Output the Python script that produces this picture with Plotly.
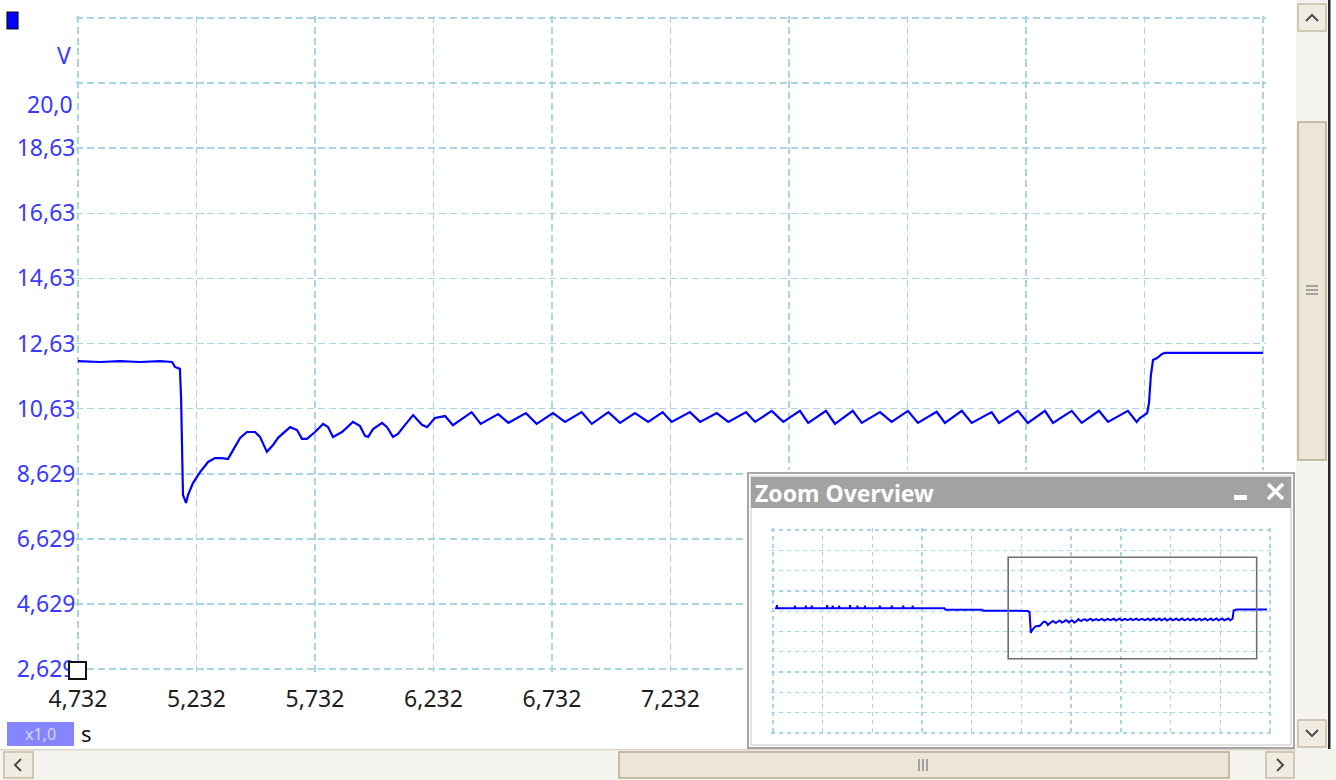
import plotly.graph_objects as go

W, H = 1336, 780

# ---------------- data ----------------
time_s = [4.732, 4.825, 4.909, 4.994, 5.078, 5.129, 5.141, 5.162, 5.167, 5.171,
          5.175, 5.188, 5.196, 5.217, 5.247, 5.281, 5.310, 5.340, 5.365, 5.382,
          5.416, 5.445, 5.479, 5.500, 5.529, 5.555, 5.576, 5.627, 5.656, 5.677,
          5.698, 5.732, 5.766, 5.787, 5.808, 5.846, 5.892, 5.922, 5.943, 5.956,
          5.977, 6.015, 6.036, 6.061, 6.082, 6.112, 6.146, 6.183, 6.205, 6.238,
          6.281, 6.314, 6.393, 6.431, 6.505, 6.548, 6.622, 6.667, 6.736, 6.787,
          6.857, 6.900, 6.970, 7.019, 7.082, 7.138, 7.199, 7.237, 7.314, 7.357,
          7.427, 7.476, 7.551, 7.589, 7.659, 7.708, 7.778, 7.813, 7.888, 7.926,
          8.001, 8.039, 8.116, 8.165, 8.234, 8.276, 8.355, 8.390, 8.461, 8.503,
          8.587, 8.618, 8.698, 8.740, 8.812, 8.846, 8.925, 8.967, 9.040, 9.078,
          9.162, 9.199, 9.213, 9.243, 9.251, 9.259, 9.268, 9.285, 9.306, 9.319,
          9.732]
volts = [12.09, 12.06, 12.09, 12.06, 12.09, 12.06, 11.91, 11.85, 10.95, 9.45,
         7.97, 7.73, 7.97, 8.34, 8.68, 8.99, 9.11, 9.11, 9.08, 9.30,
         9.73, 9.91, 9.91, 9.76, 9.30, 9.51, 9.73, 10.06, 9.97, 9.70,
         9.70, 9.91, 10.16, 10.06, 9.76, 9.91, 10.22, 10.09, 9.79, 9.76,
         10.00, 10.19, 10.06, 9.76, 9.85, 10.13, 10.43, 10.13, 10.06, 10.34,
         10.40, 10.12, 10.52, 10.16, 10.46, 10.19, 10.49, 10.16, 10.49, 10.22,
         10.52, 10.16, 10.52, 10.19, 10.49, 10.22, 10.52, 10.22, 10.52, 10.22,
         10.49, 10.22, 10.52, 10.22, 10.56, 10.22, 10.56, 10.19, 10.56, 10.16,
         10.56, 10.19, 10.52, 10.22, 10.56, 10.19, 10.53, 10.19, 10.56, 10.19,
         10.52, 10.19, 10.56, 10.19, 10.56, 10.19, 10.56, 10.19, 10.56, 10.22,
         10.56, 10.22, 10.34, 10.49, 10.80, 11.66, 12.12, 12.18, 12.31, 12.34,
         12.34]

# signal before / after the zoomed window (only visible in the overview)
pre_time_s = [0.04, 0.075, 0.08, 0.085, 0.435, 0.44, 0.445, 0.655, 0.66, 0.665,
              0.775, 0.78, 0.785, 1.085, 1.09, 1.095, 1.195, 1.20, 1.205,
              1.325, 1.33, 1.335, 1.545, 1.55, 1.555, 1.695, 1.70, 1.705,
              1.845, 1.85, 1.855, 2.145, 2.15, 2.155, 2.385, 2.39, 2.395,
              2.615, 2.62, 2.625, 2.805, 2.81, 2.815, 3.45, 3.47, 4.21, 4.23]
pre_volts = [12.6, 12.6, 13.2, 12.6, 12.6, 13.1, 12.6, 12.6, 13.1, 12.6,
             12.6, 13.1, 12.6, 12.6, 13.2, 12.6, 12.6, 13.1, 12.6,
             12.6, 13.1, 12.6, 12.6, 13.2, 12.6, 12.6, 13.1, 12.6,
             12.6, 13.1, 12.6, 12.6, 13.1, 12.6, 12.6, 13.1, 12.6,
             12.6, 13.1, 12.6, 12.6, 13.1, 12.6, 12.6, 12.3, 12.3, 12.09]
tail_time_s = [9.94]
tail_volts = [12.34]

x_tick_values = [4.732, 5.232, 5.732, 6.232, 6.732, 7.232, 7.732, 8.232, 8.732, 9.232, 9.732]
x_tick_labels = ["4,732", "5,232", "5,732", "6,232", "6,732", "7,232",
                 "7,732", "8,232", "8,732", "9,232", "9,732"]
y_tick_values = [2.629, 4.629, 6.629, 8.629, 10.629, 12.629, 14.629, 16.629,
                 18.629, 20.629, 22.629]
y_tick_labels = ["2,629", "4,629", "6,629", "8,629", "10,63", "12,63", "14,63",
                 "16,63", "18,63", "", ""]
y_max_value = 20.0
y_max_label = "20,0"
y_unit_pos = 21.49
y_unit = "V"
x_unit = "s"
zoom_factor_label = "x1,0"
panel_title = "Zoom Overview"

view_time = [4.732, 9.732]
view_volts = [2.629, 22.629]
overview_time = [0, 10]
overview_volts = [-12, 28]

# ---------------- styling ----------------
FONT = "Noto Sans"
GRID = "#a9d5e4"
BLUE = "#0000ff"
LABEL_BLUE = "#3a3aff"
EDGE_PAD = 2.5  # px: keeps the border grid lines inside the axis range


def px(x):
    return x / W


def py(y):
    return 1 - y / H


def padded(rng, left_px, right_px, pad_px=EDGE_PAD):
    """Extend an axis range and its pixel extent by pad_px on both ends."""
    per_px = (rng[1] - rng[0]) / (right_px - left_px)
    return ([rng[0] - pad_px * per_px, rng[1] + pad_px * per_px],
            [left_px - pad_px, right_px + pad_px])


main_x_rng, main_x_px = padded(view_time, 78, 1263)
main_y_rng, main_y_px = padded(view_volts, 18, 669)        # top/bottom px
ov_x_rng, ov_x_px = padded(overview_time, 773, 1270)
ov_y_rng, ov_y_px = padded(overview_volts, 530, 733)

fig = go.Figure()

# main trace
fig.add_trace(go.Scatter(x=time_s, y=volts, mode="lines",
                         line=dict(color=BLUE, width=2.2),
                         xaxis="x", yaxis="y", hoverinfo="skip", showlegend=False))
# panel background subplot (no data)
fig.add_trace(go.Scatter(x=[], y=[], mode="lines", xaxis="x2", yaxis="y2",
                         hoverinfo="skip", showlegend=False))
# overview trace
fig.add_trace(go.Scatter(x=pre_time_s + time_s + tail_time_s,
                         y=pre_volts + volts + tail_volts, mode="lines",
                         line=dict(color=BLUE, width=2),
                         xaxis="x3", yaxis="y3", hoverinfo="skip", showlegend=False))

axis_common = dict(zeroline=False, showline=False, fixedrange=True, automargin=False)

fig.update_layout(
    template="none",
    width=W, height=H, autosize=False,
    margin=dict(l=0, r=0, t=0, b=0, pad=0),
    paper_bgcolor="white", plot_bgcolor="#ffffff",
    showlegend=False,
    xaxis=dict(domain=[px(main_x_px[0]), px(main_x_px[1])], range=main_x_rng,
               tickmode="array", tickvals=x_tick_values, ticktext=x_tick_labels,
               showgrid=True, gridcolor=GRID, gridwidth=1.6, griddash="7px,4px",
               ticks="", ticklabelstandoff=11,
               tickfont=dict(family=FONT, size=23, color="#1e1e1e"),
               anchor="y", **axis_common),
    yaxis=dict(domain=[py(main_y_px[1]), py(main_y_px[0])], range=main_y_rng,
               tickmode="array", tickvals=y_tick_values, ticktext=y_tick_labels,
               showgrid=True, gridcolor=GRID, gridwidth=1.6, griddash="7px,4px",
               ticks="", ticklabelstandoff=-1,
               tickfont=dict(family=FONT, size=23, color=LABEL_BLUE),
               anchor="x", **axis_common),
    xaxis2=dict(domain=[px(745), px(1296)], range=[745, 1296], visible=False,
                showgrid=False, anchor="y2", **axis_common),
    yaxis2=dict(domain=[py(751), py(470)], range=[751, 470], visible=False,
                showgrid=False, anchor="x2", **axis_common),
    xaxis3=dict(domain=[px(ov_x_px[0]), px(ov_x_px[1])], range=ov_x_rng,
                tick0=0, dtick=1,
                showticklabels=False, ticks="", showgrid=True, gridcolor=GRID,
                gridwidth=1.4, griddash="4px,4px", anchor="y3", **axis_common),
    yaxis3=dict(domain=[py(ov_y_px[1]), py(ov_y_px[0])], range=ov_y_rng,
                tick0=-12, dtick=4,
                showticklabels=False, ticks="", showgrid=True, gridcolor=GRID,
                gridwidth=1.4, griddash="4px,4px", anchor="x3", **axis_common),
)

shapes = []

# ---- Zoom Overview panel (drawn in the x2/y2 pixel-like subplot) ----
def pshape(**kw):
    d = dict(xref="x2", yref="y2", layer="below")
    d.update(kw)
    shapes.append(d)

pshape(type="rect", x0=748, x1=1294, y0=473, y1=748, fillcolor="white",
       line=dict(color="#a6a6a6", width=2))
pshape(type="rect", x0=751, x1=1291, y0=476, y1=745,
       line=dict(color="#c4c4c4", width=1))
pshape(type="rect", x0=751, x1=1291, y0=477, y1=508, fillcolor="#a2a2a2",
       line=dict(width=0))
pshape(type="rect", x0=1234, x1=1247, y0=495, y1=500, fillcolor="white",
       line=dict(width=0))
pshape(type="line", x0=1268, y0=484, x1=1283, y1=499, line=dict(color="white", width=3.5))
pshape(type="line", x0=1283, y0=484, x1=1268, y1=499, line=dict(color="white", width=3.5))

# view rectangle in overview
shapes.append(dict(type="rect", xref="x3", yref="y3", layer="above",
                   x0=view_time[0], x1=view_time[1], y0=view_volts[0], y1=view_volts[1],
                   line=dict(color="#6e6e6e", width=1.6)))

# ---- window chrome in paper coordinates ----
def rect(x0, y0, x1, y1, fill, line=None, lw=0):
    shapes.append(dict(type="rect", xref="paper", yref="paper", layer="above",
                       x0=px(x0), x1=px(x1), y0=py(y1), y1=py(y0),
                       fillcolor=fill,
                       line=dict(color=line or fill, width=lw)))

def poly(points, color="#4d4d4d", width=2):
    path = "M " + " L ".join(f"{px(a):.5f},{py(b):.5f}" for a, b in points)
    shapes.append(dict(type="path", xref="paper", yref="paper", layer="above",
                       path=path, line=dict(color=color, width=width)))

TRACK = "#f6f4ee"
BTN = "#f0ece2"
BTN_LINE = "#c6baa6"
THUMB = "#ebe6d8"
THUMB_LINE = "#b7a990"

# horizontal scrollbar
rect(0, 749, 1296, 780, TRACK)
rect(0, 749, 1296, 750.5, "#dcd6c8")
rect(4, 752, 33, 778, BTN, BTN_LINE, 1.5)
poly([(21, 759), (15, 765), (21, 771)])
rect(619, 752, 1229, 778, THUMB, THUMB_LINE, 1.5)
for gx in (919, 923, 927):
    poly([(gx, 759), (gx, 771)], color="#8a8a8a", width=1.5)
rect(1266, 752, 1294, 778, BTN, BTN_LINE, 1.5)
poly([(1277, 759), (1283, 765), (1277, 771)])

# vertical scrollbar
rect(1296, 0, 1328, 749, TRACK)
rect(1296, 749, 1336, 780, TRACK)
rect(1298, 4, 1326, 31, BTN, BTN_LINE, 1.5)
poly([(1306, 21), (1312, 15), (1318, 21)])
rect(1298, 122, 1326, 460, THUMB, THUMB_LINE, 1.5)
for gy in (286, 290, 294):
    poly([(1306, gy), (1318, gy)], color="#8a8a8a", width=1.5)
rect(1298, 720, 1326, 747, BTN, BTN_LINE, 1.5)
poly([(1306, 730), (1312, 736), (1318, 730)])
rect(1328, 0, 1330.5, 749, "#262626")

# channel marker & cursor box
rect(7, 12, 18, 29, BLUE, "#101010", 1.2)
rect(69, 662, 86, 679, "white", "#111111", 2)

# zoom factor box
rect(7, 722, 74, 746, "#8585ff")

fig.update_layout(shapes=shapes)

annotations = [
    dict(text=y_max_label, xref="paper", yref="y", x=px(75), y=y_max_value,
         xanchor="right", yanchor="middle", showarrow=False,
         font=dict(family=FONT, size=23, color=LABEL_BLUE)),
    dict(text=y_unit, xref="paper", yref="y", x=px(73), y=y_unit_pos,
         xanchor="right", yanchor="middle", showarrow=False,
         font=dict(family=FONT, size=23, color=LABEL_BLUE)),
    dict(text=x_unit, xref="paper", yref="paper", x=px(79), y=py(733),
         xanchor="left", yanchor="middle", showarrow=False,
         font=dict(family=FONT, size=22, color="#111111")),
    dict(text=zoom_factor_label, xref="paper", yref="paper", x=px(40), y=py(734),
         xanchor="center", yanchor="middle", showarrow=False,
         font=dict(family=FONT, size=16, color="#d6d6ff")),
    dict(text=panel_title, xref="paper", yref="paper", x=px(753), y=py(493),
         xanchor="left", yanchor="middle", showarrow=False,
         font=dict(family=FONT, size=23, color="white", weight="bold")),
]
fig.update_layout(annotations=annotations)

fig.write_html("out.html", config={"displayModeBar": False, "staticPlot": True},
               post_script="document.body.style.margin='0px';"
                           "document.body.style.overflow='hidden';")
